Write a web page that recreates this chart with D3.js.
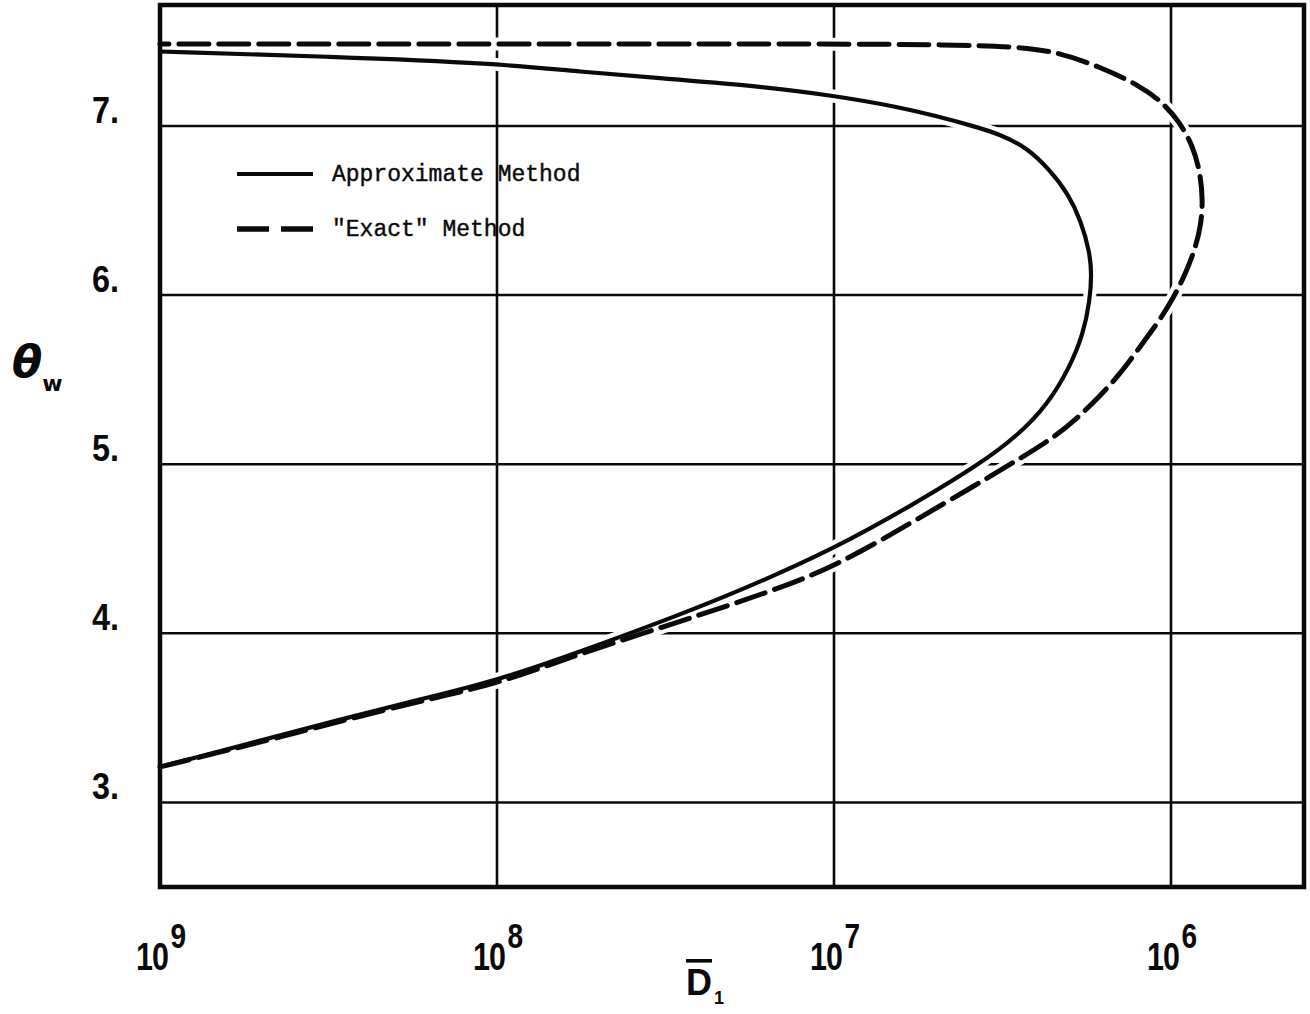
<!DOCTYPE html>
<html>
<head>
<meta charset="utf-8">
<script src="https://cdn.jsdelivr.net/npm/d3@7"></script>
<style>
  html, body { margin: 0; padding: 0; background: #fff; }
  svg { display: block; }
</style>
</head>
<body>
<script>
// ---------------- data ----------------
const xTickValues = [1e9, 1e8, 1e7, 1e6];
const xTickExponents = ["9", "8", "7", "6"];
const yTickValues = [3, 4, 5, 6, 7];
const yTickLabels = ["3.", "4.", "5.", "6.", "7."];

// Approximate Method (solid)
const approxD = [1.0e9, 5.41e8, 2.92e8, 1.69e8, 1.0e8, 5.68e7, 2.86e7, 1.81e7, 1.0e7, 5.83e6,
  3.69e6, 2.81e6, 2.33e6, 2.0e6, 1.82e6, 1.74e6, 1.72e6, 1.74e6, 1.85e6, 2.02e6,
  2.29e6, 2.67e6, 3.21e6, 3.87e6, 5.01e6, 6.37e6, 1.0e7, 1.77e7, 3.17e7, 5.68e7,
  1.0e8, 3.13e8, 1.0e9];
const approxTheta = [3.21, 3.35, 3.49, 3.61, 3.72, 3.89, 4.11, 4.27, 4.50, 4.76,
  5.00, 5.18, 5.35, 5.57, 5.77, 5.97, 6.12, 6.25, 6.44, 6.60,
  6.74, 6.87, 6.95, 7.00, 7.06, 7.11, 7.18, 7.24, 7.28, 7.32,
  7.37, 7.41, 7.44];

// "Exact" Method (dashed)
const exactD = [1.0e9, 5.41e8, 2.92e8, 1.69e8, 1.0e8, 5.68e7, 2.86e7, 1.58e7, 1.0e7, 5.83e6,
  3.77e6, 2.94e6, 2.29e6, 1.90e6, 1.63e6, 1.42e6, 1.24e6, 1.09e6, 9.86e5, 9.08e5,
  8.49e5, 8.15e5, 8.04e5, 8.2e5, 8.61e5, 9.4e5, 1.06e6, 1.24e6, 1.63e6, 2.18e6,
  2.94e6, 4.53e6, 1.0e7, 1.0e8, 1.0e9];
const exactTheta = [3.21, 3.34, 3.48, 3.60, 3.70, 3.88, 4.07, 4.24, 4.39, 4.66,
  4.88, 5.01, 5.14, 5.27, 5.40, 5.53, 5.69, 5.84, 5.98, 6.12,
  6.27, 6.41, 6.56, 6.73, 6.88, 7.02, 7.14, 7.24, 7.35, 7.44,
  7.47, 7.48, 7.485, 7.485, 7.485];

const legendLabels = ["Approximate Method", "\"Exact\" Method"];

// ---------------- layout ----------------
const W = 1310, H = 1014;
const pLeft = 160, pRight = 1304, pTop = 5, pBottom = 887;

const x = d3.scaleLog().domain([1e9, 4.03e5]).range([pLeft, pRight]);
const y = d3.scaleLinear().domain([2.5, 7.715]).range([pBottom, pTop]);

const svg = d3.select("body").append("svg")
  .attr("width", W).attr("height", H)
  .attr("viewBox", `0 0 ${W} ${H}`);

svg.append("rect").attr("width", W).attr("height", H).attr("fill", "#fff");

const ink = "#0a0a0a";

// grid
const grid = svg.append("g").attr("stroke", ink).attr("stroke-width", 2.6);
grid.selectAll("line.v").data(xTickValues).join("line")
  .attr("class", "v")
  .attr("x1", d => x(d)).attr("x2", d => x(d))
  .attr("y1", pTop).attr("y2", pBottom);
grid.selectAll("line.h").data(yTickValues).join("line")
  .attr("class", "h")
  .attr("x1", pLeft).attr("x2", pRight)
  .attr("y1", d => y(d)).attr("y2", d => y(d));

// series
const approx = approxD.map((d, i) => ({ D: d, t: approxTheta[i] }));
const exact = exactD.map((d, i) => ({ D: d, t: exactTheta[i] }));

const line = d3.line()
  .x(d => x(d.D)).y(d => y(d.t))
  .curve(d3.curveBasis);

// white halos (gaps in grid where curves cross)
[approx, exact].forEach(s => {
  svg.append("path").attr("d", line(s))
    .attr("fill", "none").attr("stroke", "#fff").attr("stroke-width", 13)
    .attr("stroke-linejoin", "round");
});

svg.append("path").attr("d", line(exact))
  .attr("fill", "none").attr("stroke", ink).attr("stroke-width", 5)
  .attr("stroke-dasharray", "30,10").attr("stroke-linecap", "round")
  .attr("stroke-linejoin", "round");

svg.append("path").attr("d", line(approx))
  .attr("fill", "none").attr("stroke", ink).attr("stroke-width", 4.2)
  .attr("stroke-linejoin", "round");

// frame
svg.append("rect")
  .attr("x", pLeft).attr("y", pTop)
  .attr("width", pRight - pLeft).attr("height", pBottom - pTop)
  .attr("fill", "none").attr("stroke", ink).attr("stroke-width", 4.5);

// legend
const lg = svg.append("g");
const legRows = [174, 229];
lg.append("line").attr("x1", 237).attr("x2", 313).attr("y1", legRows[0]).attr("y2", legRows[0])
  .attr("stroke", ink).attr("stroke-width", 4.2);
lg.append("line").attr("x1", 237).attr("x2", 313).attr("y1", legRows[1]).attr("y2", legRows[1])
  .attr("stroke", ink).attr("stroke-width", 5.5).attr("stroke-dasharray", "32,12");
lg.selectAll("text").data(legendLabels).join("text")
  .attr("x", 332).attr("y", (d, i) => legRows[i] + 7)
  .attr("font-family", "'Liberation Mono', 'Courier New', monospace")
  .attr("font-size", 23)
  .attr("fill", ink)
  .attr("stroke", ink).attr("stroke-width", 0.4)
  .text(d => d);

// y tick labels
svg.append("g").selectAll("text").data(yTickValues).join("text")
  .attr("x", 92).attr("y", d => y(d) - 3)
  .attr("font-family", "'Liberation Sans', Arial, sans-serif")
  .attr("font-weight", "bold").attr("font-size", 36)
  .attr("textLength", 27).attr("lengthAdjust", "spacingAndGlyphs")
  .attr("fill", ink)
  .text((d, i) => yTickLabels[i]);

// x tick labels: 10^n (single text element, condensed horizontally)
const xl = svg.append("g").attr("fill", ink)
  .attr("font-family", "'Liberation Sans', Arial, sans-serif")
  .attr("font-weight", "bold");
const xlt = xl.selectAll("text").data(xTickValues).join("text")
  .attr("transform", d => `translate(${x(d) - 24},970) scale(0.8,1)`);
xlt.append("tspan").attr("font-size", 38).attr("letter-spacing", -1).text("10");
xlt.append("tspan").attr("font-size", 35).attr("dx", 3).attr("dy", -22)
  .text((d, i) => xTickExponents[i]);

// x axis title: D-bar subscript 1
const xt = svg.append("text")
  .attr("x", 686).attr("y", 995)
  .attr("font-family", "'Liberation Sans', Arial, sans-serif")
  .attr("font-weight", "bold").attr("fill", ink);
xt.append("tspan").attr("font-size", 36).attr("text-decoration", "overline").text("D");
xt.append("tspan").attr("font-size", 18).attr("dx", 2).attr("dy", 9).text("1");

// y axis title: theta subscript w
const yt = svg.append("text")
  .attr("x", 12).attr("y", 377)
  .attr("font-family", "'DejaVu Sans', sans-serif")
  .attr("font-weight", "bold").attr("font-style", "italic").attr("fill", ink);
yt.append("tspan").attr("font-size", 44).text("θ");
yt.append("tspan").attr("font-size", 22).attr("dx", 0).attr("dy", 14).attr("font-style", "normal").text("w");
</script>
</body>
</html>
